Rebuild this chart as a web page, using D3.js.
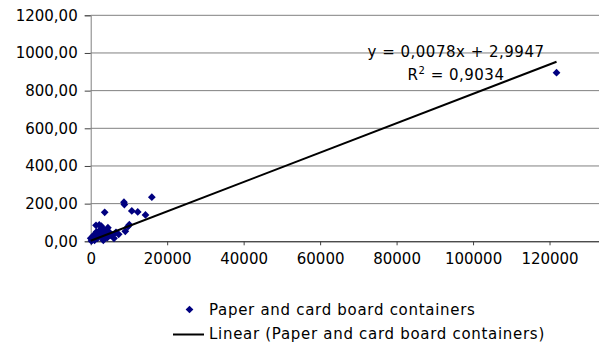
<!DOCTYPE html>
<html>
<head>
<meta charset="utf-8">
<script src="https://cdn.jsdelivr.net/npm/d3@7"></script>
<style>
  html, body { margin: 0; padding: 0; background: #fff; }
  svg { display: block; font-family: "DejaVu Sans", Verdana, sans-serif; }
</style>
</head>
<body>
<div id="chart"></div>
<script>
// scatter data
const xValues = [0, 200, 340, 500, 500, 860, 1000, 1200, 1390, 1500, 1730, 2000, 2250, 2400, 2600, 2800, 2900,
  3140, 3300, 3480, 3660, 3800, 4000, 4340, 4500, 4800, 5230, 5750, 6090, 6610, 7320, 8700, 8800, 9050,
  9750, 10100, 10750, 12300, 14330, 15990, 121830];
const yValues = [16, 2, 7, 12, 25, 33, 5, 40, 85, 50, 16, 25, 87, 60, 37, 80, 45,
  16, 5, 60, 154, 30, 42, 19, 72, 50, 33, 33, 16, 48, 37, 208, 195, 53,
  78, 88, 161, 156, 140, 234, 895];

const yTicks = [0, 200, 400, 600, 800, 1000, 1200];
const xTicks = [0, 20000, 40000, 60000, 80000, 100000, 120000, 140000];

const trendSlope = 0.0078;
const trendIntercept = 2.9947;
const equationLabel = 'y = 0,0078x + 2,9947';
const rSquaredLabel = '0,9034';
const seriesName = 'Paper and card board containers';
const trendName = 'Linear (Paper and card board containers)';

const width = 599, height = 345;
const margin = {top: 15.3, left: 90.7, bottom: 103.7};
const color = '#000080';

const svg = d3.select('#chart')
  .append('svg')
  .attr('width', width)
  .attr('height', height);

const x = d3.scaleLinear().domain([0, 140000]).range([margin.left, 626]);
const y = d3.scaleLinear().domain([0, 1200]).range([height - margin.bottom, margin.top]);

const fmtY = v => d3.format('.2f')(v).replace('.', ',');

// horizontal gridlines
svg.append('g')
  .selectAll('line')
  .data(yTicks.filter(d => d > 0))
  .join('line')
  .attr('x1', x(0)).attr('x2', width)
  .attr('y1', d => y(d)).attr('y2', d => y(d))
  .attr('stroke', '#808080')
  .attr('stroke-width', 1);

// y axis
const yAxis = svg.append('g')
  .attr('transform', 'translate(' + x(0) + ',0)')
  .call(d3.axisLeft(y).tickValues(yTicks).tickFormat(fmtY).tickSize(6).tickPadding(7));
yAxis.select('.domain').attr('stroke', '#808080');
yAxis.selectAll('.tick line').attr('stroke', '#404040');
yAxis.selectAll('text').attr('font-size', 15).attr('fill', '#000')
  .attr('font-family', '"DejaVu Sans", Verdana, sans-serif');

// x axis
const xAxis = svg.append('g')
  .attr('transform', 'translate(0,' + y(0) + ')')
  .call(d3.axisBottom(x).tickValues(xTicks).tickFormat(d3.format('d')).tickSizeInner(4).tickSizeOuter(0).tickPadding(8));
xAxis.select('.domain').attr('stroke', '#000');
xAxis.selectAll('.tick line').attr('stroke', '#404040');
xAxis.selectAll('text').attr('font-size', 15).attr('fill', '#000')
  .attr('font-family', '"DejaVu Sans", Verdana, sans-serif');

// points
const points = xValues.map((v, i) => [v, yValues[i]]);
const diamond = d3.symbol().type(d3.symbolSquare).size(30);

svg.append('g')
  .selectAll('path')
  .data(points)
  .join('path')
  .attr('d', diamond)
  .attr('transform', d => 'translate(' + x(d[0]) + ',' + y(d[1]) + ') rotate(45)')
  .attr('fill', color);

// linear trendline
const xExtent = d3.extent(xValues);
const trend = xExtent.map(v => [v, trendSlope * v + trendIntercept]);

svg.append('path')
  .datum(trend)
  .attr('fill', 'none')
  .attr('stroke', '#000')
  .attr('stroke-width', 2)
  .attr('d', d3.line().x(d => x(d[0])).y(d => y(d[1])));

// equation label
svg.append('text')
  .attr('x', 456).attr('y', 57)
  .attr('text-anchor', 'middle')
  .attr('font-size', 15)
  .attr('letter-spacing', 0.5)
  .text(equationLabel);

const r2 = svg.append('text')
  .attr('x', 456).attr('y', 80)
  .attr('text-anchor', 'middle')
  .attr('font-size', 15)
  .attr('letter-spacing', 0.5);
r2.append('tspan').text('R');
r2.append('tspan').attr('dy', -6).attr('font-size', 10).text('2');
r2.append('tspan').attr('dy', 6).text(' = ' + rSquaredLabel);

// legend
const legend = svg.append('g');
legend.append('path')
  .attr('d', diamond)
  .attr('transform', 'translate(189.5,309.5) rotate(45)')
  .attr('fill', color);
legend.append('text')
  .attr('x', 209).attr('y', 314.5)
  .attr('font-size', 15)
  .attr('letter-spacing', 0.7)
  .text(seriesName);
legend.append('line')
  .attr('x1', 173).attr('x2', 204)
  .attr('y1', 334.5).attr('y2', 334.5)
  .attr('stroke', '#000')
  .attr('stroke-width', 2);
legend.append('text')
  .attr('x', 209).attr('y', 338.5)
  .attr('font-size', 15)
  .attr('letter-spacing', 0.7)
  .text(trendName);
</script>
</body>
</html>
